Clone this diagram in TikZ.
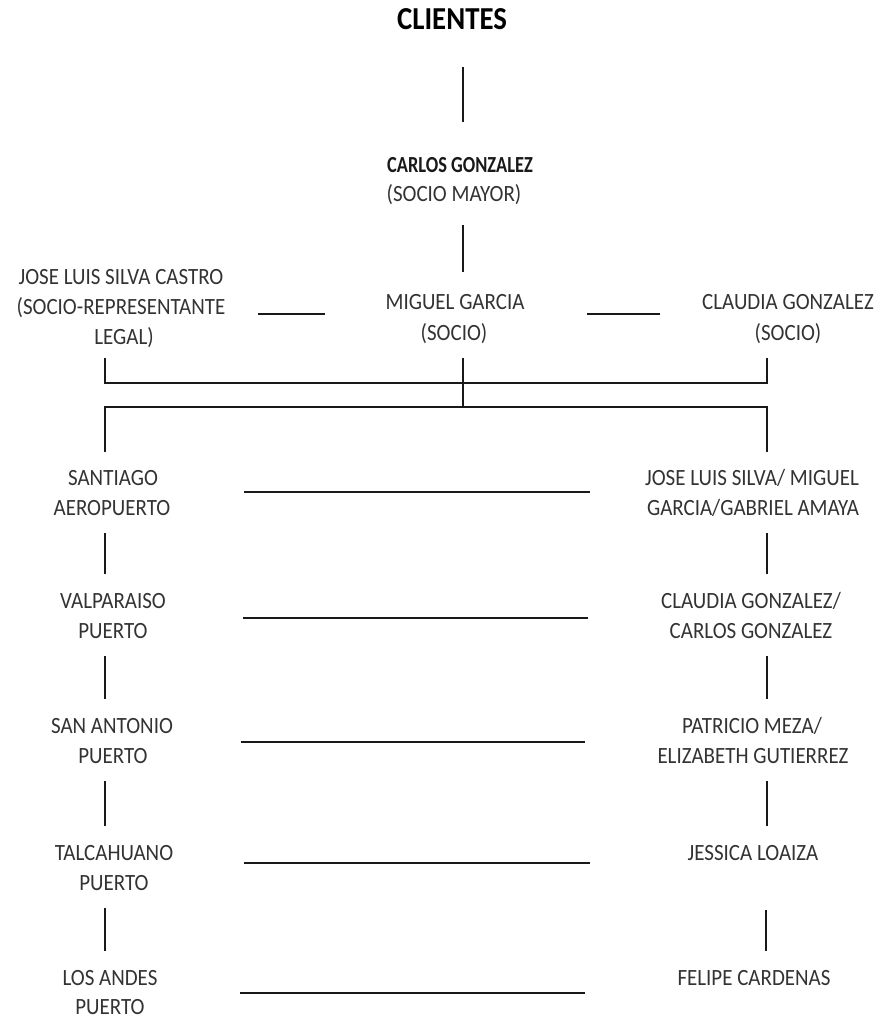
\documentclass[tikz,border=0pt]{standalone}
\usepackage{fontspec}
\setmainfont[FakeStretch=0.9]{Carlito}
\newfontfamily\cgbold[FakeStretch=0.8,UprightFont={* Bold}]{Carlito}
\usetikzlibrary{calc}
\definecolor{ink}{HTML}{333333}
\begin{document}
\begin{tikzpicture}[x=1pt,y=-1pt,
  txt/.style={anchor=base,inner sep=0pt,text=ink,font=\fontsize{23.3}{28}\selectfont},
  bld/.style={anchor=base,inner sep=0pt,text=black!90,font=\fontsize{23}{28}\selectfont\cgbold},
  ttl/.style={anchor=base,inner sep=0pt,text=black,font=\fontsize{32}{36}\selectfont\bfseries},
  conn/.style={draw=black!90,line width=1.3pt}]
\fill[white] (0,0) rectangle (881,1020);
\useasboundingbox (0,0) rectangle (881,1020);
% column coordinates
\coordinate (sp) at (463,0);
\coordinate (cl) at (105,0);
\coordinate (cr) at (767,0);
\coordinate (ha) at (258,0);
\coordinate (hb) at (325,0);
\coordinate (hc) at (587,0);
\coordinate (hd) at (660,0);
\coordinate (ml) at (243,0);
\coordinate (mr) at (588,0);
% nodes
\node[ttl] (cli) at (452,29) {CLIENTES};
\node[bld] (carlos) at (460,172) {CARLOS GONZALEZ};
\node[txt] (carlos2) at (454,201) {(SOCIO MAYOR)};
\node[txt] (jose1) at (121,284) {JOSE LUIS SILVA CASTRO};
\node[txt] (jose2) at (121,314) {(SOCIO-REPRESENTANTE};
\node[txt] (jose3) at (124,344) {LEGAL)};
\node[txt] (mig1) at (455,309) {MIGUEL GARCIA};
\node[txt] (mig2) at (454,340) {(SOCIO)};
\node[txt] (cla1) at (788,309) {CLAUDIA GONZALEZ};
\node[txt] (cla2) at (788,340) {(SOCIO)};
\node[txt] (l1a) at (113,485) {SANTIAGO};
\node[txt] (l1b) at (112,515) {AEROPUERTO};
\node[txt] (r1a) at (752,485) {JOSE LUIS SILVA/ MIGUEL};
\node[txt] (r1b) at (753,515) {GARCIA/GABRIEL AMAYA};
\node[txt] (l2a) at (113,608) {VALPARAISO};
\node[txt] (l2b) at (113,638) {PUERTO};
\node[txt] (r2a) at (751,608) {CLAUDIA GONZALEZ/};
\node[txt] (r2b) at (751,638) {CARLOS GONZALEZ};
\node[txt] (l3a) at (112,733) {SAN ANTONIO};
\node[txt] (l3b) at (113,763) {PUERTO};
\node[txt] (r3a) at (752,733) {PATRICIO MEZA/};
\node[txt] (r3b) at (753,763) {ELIZABETH GUTIERREZ};
\node[txt] (l4a) at (114,860) {TALCAHUANO};
\node[txt] (l4b) at (114,890) {PUERTO};
\node[txt] (r4a) at (753,860) {JESSICA LOAIZA};
\node[txt] (l5a) at (110,985) {LOS ANDES};
\node[txt] (l5b) at (110,1014) {PUERTO};
\node[txt] (r5a) at (754,985) {FELIPE CARDENAS};
% connectors top
\draw[conn] ($(cli.base -| sp)+(0,38)$) -- ($(carlos.base -| sp)+(0,-50)$);
\draw[conn] ($(carlos2.base -| sp)+(0,24)$) -- ($(mig1.base -| sp)+(0,-37)$);
\draw[conn] (jose2.base -| ha) -- ($(mig1.base -| hb)+(0,5)$);
\draw[conn] ($(mig1.base -| hc)+(0,5)$) -- ($(cla1.base -| hd)+(0,5)$);
\draw[conn] ($(jose3.base -| cl)+(0,14)$) |- ($(mig2.base -| sp)+(0,43)$) -| ($(cla2.base -| cr)+(0,18)$);
\draw[conn] ($(mig2.base -| sp)+(0,18)$) -- ($(mig2.base -| sp)+(0,67)$);
\draw[conn] ($(l1a.base -| cl)+(0,-33)$) |- ($(mig2.base -| sp)+(0,67)$) -| ($(r1a.base -| cr)+(0,-33)$);
% left column verticals
\draw[conn] ($(l1b.base -| cl)+(0,18)$) -- ($(l2a.base -| cl)+(0,-34)$);
\draw[conn] ($(l2b.base -| cl)+(0,18)$) -- ($(l3a.base -| cl)+(0,-34)$);
\draw[conn] ($(l3b.base -| cl)+(0,18)$) -- ($(l4a.base -| cl)+(0,-34)$);
\draw[conn] ($(l4b.base -| cl)+(0,18)$) -- ($(l5a.base -| cl)+(0,-34)$);
% right column verticals
\draw[conn] ($(r1b.base -| cr)+(0,18)$) -- ($(r2a.base -| cr)+(0,-34)$);
\draw[conn] ($(r2b.base -| cr)+(0,18)$) -- ($(r3a.base -| cr)+(0,-34)$);
\draw[conn] ($(r3b.base -| cr)+(0,18)$) -- ($(r4a.base -| cr)+(0,-34)$);
\draw[conn] ($(r4a.base -| cr)+(-1,50)$) -- ($(r5a.base -| cr)+(-1,-34)$);
% horizontal links between columns
\draw[conn] ($(l1a.base -| ml)+(1,7)$) -- ($(r1a.base -| mr)+(2,7)$);
\draw[conn] ($(l2a.base -| ml)+(0,10)$) -- ($(r2a.base -| mr)+(0,10)$);
\draw[conn] ($(l3a.base -| ml)+(-2,9)$) -- ($(r3a.base -| mr)+(-3,9)$);
\draw[conn] ($(l4a.base -| ml)+(1,3)$) -- ($(r4a.base -| mr)+(2,3)$);
\draw[conn] ($(l5a.base -| ml)+(-3,8)$) -- ($(r5a.base -| mr)+(-3,8)$);
\end{tikzpicture}
\end{document}
